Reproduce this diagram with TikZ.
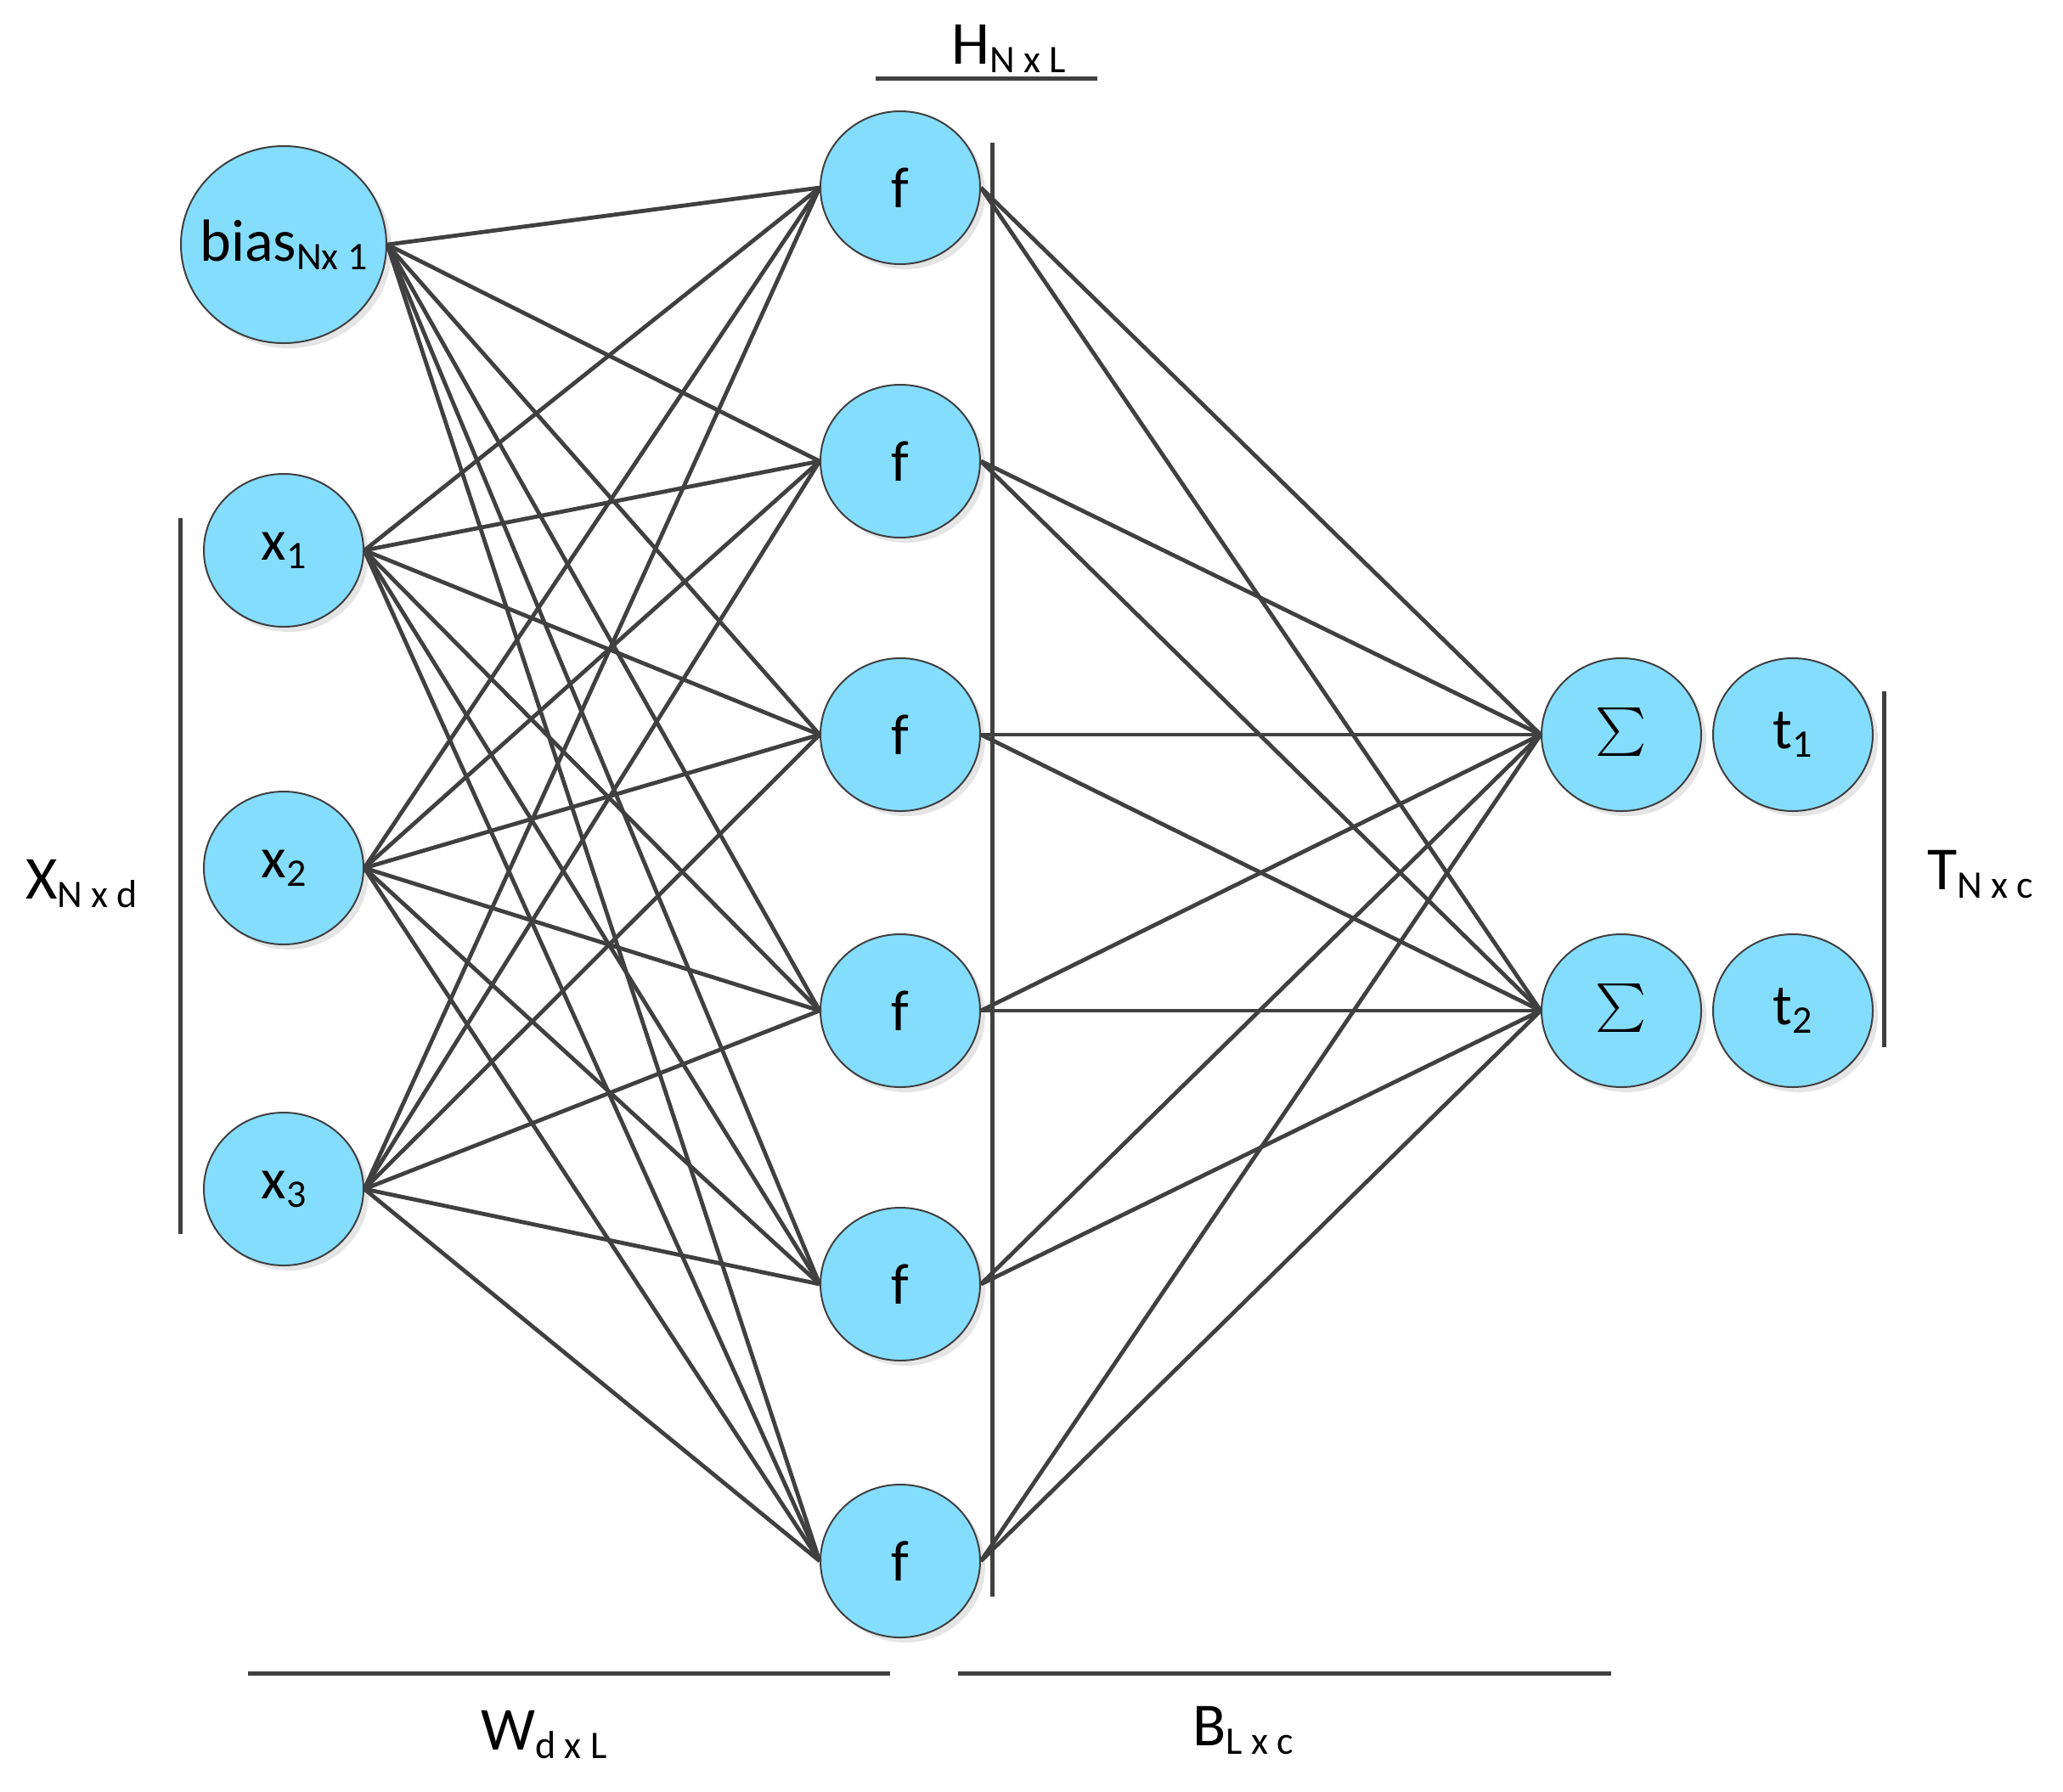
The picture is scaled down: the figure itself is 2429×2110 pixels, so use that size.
\documentclass[tikz,border=0pt]{standalone}
\usepackage{fontspec}
\setmainfont{Carlito}
\usetikzlibrary{shapes.geometric,shadows}
\definecolor{nodefill}{RGB}{133,221,253}
\definecolor{linegray}{RGB}{64,64,64}
\newcommand{\sbx}[1]{\raisebox{-10pt}{\fontsize{46}{50}\selectfont #1}}
\begin{document}
\begin{tikzpicture}[x=1pt,y=-1pt,
  neuron/.style={ellipse, draw=linegray, line width=2pt, fill=nodefill,
    minimum width=188pt, minimum height=180pt, inner sep=0pt,
    font=\fontsize{68}{80}\selectfont,
    drop shadow={shadow xshift=6pt, shadow yshift=-6pt, fill=black!10, draw=none, opacity=1}},
  conn/.style={draw=linegray, line width=4.8pt},
  bar/.style={draw=linegray, line width=5pt},
  lbl/.style={font=\fontsize{72}{80}\selectfont, inner sep=0pt, anchor=base west}]
\useasboundingbox (0,0) rectangle (2429,2110);

% input layer
\node[neuron, minimum width=242pt, minimum height=232pt] (b) at (334,288)
  {\makebox[0pt]{\fontsize{70}{80}\selectfont bias\sbx{Nx 1}}};
\node[neuron] (x1) at (334,648) {x\sbx{1}};
\node[neuron] (x2) at (334,1022) {x\sbx{2}};
\node[neuron] (x3) at (334,1400) {x\sbx{3}};

% hidden layer
\foreach \i/\y in {1/221,2/543,3/865,4/1190,5/1512,6/1838}
  \node[neuron] (f\i) at (1060,\y) {f};

% output layer
\node[neuron] (s1) at (1909,865) {\scalebox{5.7}{$\sum$}};
\node[neuron] (s2) at (1909,1190) {\scalebox{5.7}{$\sum$}};
\node[neuron] (t1) at (2111,865) {t\sbx{1}};
\node[neuron] (t2) at (2111,1190) {t\sbx{2}};

% connectors
\foreach \s in {b,x1,x2,x3}
  \foreach \i in {1,...,6}
    \draw[conn] (\s.east) -- (f\i.west);
\foreach \i in {1,...,6}
  \foreach \o in {s1,s2}
    \draw[conn] (f\i.east) -- (\o.west);

% bars
\coordinate (hL) at (1031,92);
\coordinate (hR) at (1292,92);
\draw[bar] (hL) -- (hR);
\coordinate (vT) at (1168,168);
\coordinate (vB) at (1168,1880);
\draw[bar] (vT) -- (vB);
\coordinate (lT) at (212,610);
\coordinate (lB) at (212,1453);
\draw[bar] (lT) -- (lB);
\coordinate (rT) at (2218,814);
\coordinate (rB) at (2218,1233);
\draw[bar] (rT) -- (rB);
\coordinate (wL) at (292,1970);
\coordinate (wR) at (1048,1970);
\draw[bar] (wL) -- (wR);
\coordinate (bL) at (1128,1970);
\coordinate (bR) at (1897,1970);
\draw[bar] (bL) -- (bR);

% labels
\node[lbl] (hlab) at (1120,75) {H\sbx{N x L}};
\node[lbl] (xlab) at (30,1058) {X\sbx{N x d}};
\node[lbl] (tlab) at (2269,1047) {T\sbx{N x c}};
\node[lbl] (wlab) at (566,2060) {W\sbx{d x L}};
\node[lbl] (blab) at (1404,2055) {B\sbx{L x c}};
\end{tikzpicture}
\end{document}
